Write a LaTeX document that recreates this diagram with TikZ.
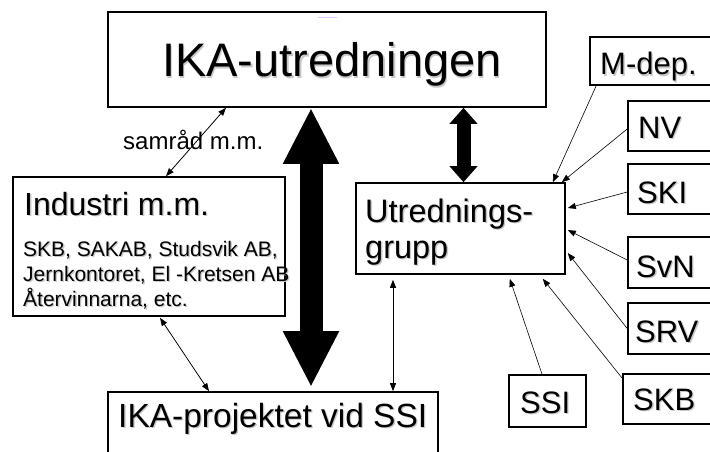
\documentclass[tikz,border=0pt]{standalone}
\usepackage{fontspec}
\setmainfont{Liberation Sans}
\usetikzlibrary{arrows.meta}
\definecolor{faintpurple}{RGB}{220,205,250}
\definecolor{shadowgray}{RGB}{200,200,200}
\newcommand\shd[1]{\rlap{\kern1.3pt\raisebox{-1.3pt}{\textcolor{shadowgray}{#1}}}#1}
\begin{document}
\begin{tikzpicture}[x=1pt,y=-1pt,
  box/.style={draw=black,line width=1.6pt,rectangle,inner sep=0pt,fill=none},
  txt/.style={anchor=base west,inner sep=0pt,text=black},
  thin/.style={line width=0.8pt,{Triangle[length=8pt,width=6pt]}-{Triangle[length=8pt,width=6pt]}},
  inarrow/.style={line width=0.6pt,-{Triangle[length=8pt,width=6pt]}},
  bigarrow/.style={line width=23pt,{Triangle[length=56pt,width=52pt]}-{Triangle[length=56pt,width=52pt]}},
  midarrow/.style={line width=14pt,{Triangle[length=16pt,width=27pt]}-{Triangle[length=16pt,width=27pt]}}
]
\useasboundingbox (0,0) rectangle (710,452);
\clip (0,0) rectangle (710,452);
\fill[white] (0,0) rectangle (710,452);

% boxes
\node[box,minimum width=438pt,minimum height=95pt] (ika) at (327,59.5) {};
\node[box,minimum width=272pt,minimum height=139pt] (ind) at (149,246.5) {};
\node[box,minimum width=209pt,minimum height=91pt] (grp) at (460.5,228.5) {};
\node[box,minimum width=330pt,minimum height=78pt] (proj) at (273,431) {};
\node[box,minimum width=140pt,minimum height=48pt] (mdep) at (660,61) {};
\node[box,minimum width=102pt,minimum height=50pt] (nv) at (679,126) {};
\node[box,minimum width=102pt,minimum height=50pt] (ski) at (679,189) {};
\node[box,minimum width=102pt,minimum height=51pt] (svn) at (679,262.5) {};
\node[box,minimum width=102pt,minimum height=51pt] (srv) at (679,328.5) {};
\node[box,minimum width=107pt,minimum height=50pt] (skb) at (676.5,399) {};
\node[box,minimum width=77pt,minimum height=52pt] (ssi) at (547.5,401) {};

% texts
\node[txt,font=\fontsize{47}{56}\selectfont] (tika) at (162,77) {\shd{IKA-utredningen}};
\node[txt,font=\fontsize{32}{38}\selectfont] (tind) at (24,215) {\shd{Industri m.m.}};
\node[txt,font=\fontsize{21}{25}\selectfont] (tind1) at (23,256) {\shd{SKB, SAKAB, Studsvik AB,}};
\node[txt,font=\fontsize{21}{25}\selectfont] (tind2) at (23,281) {\shd{Jernkontoret, El -Kretsen AB}};
\node[txt,font=\fontsize{21}{25}\selectfont] (tind3) at (23,306) {\shd{Återvinnarna, etc.}};
\node[txt,font=\fontsize{32.5}{40}\selectfont] (tgrp1) at (365,222) {\shd{Utrednings-}};
\node[txt,font=\fontsize{32.5}{40}\selectfont] (tgrp2) at (365,258) {\shd{grupp}};
\node[txt,font=\fontsize{33.5}{40}\selectfont] (tproj) at (118,427) {\shd{IKA-projektet vid SSI}};
\node[txt,font=\fontsize{31}{37}\selectfont] (tmdep) at (600,75) {\shd{M-dep.}};
\node[txt,font=\fontsize{31}{37}\selectfont] (tnv) at (638,138) {\shd{NV}};
\node[txt,font=\fontsize{31}{37}\selectfont] (tski) at (637,203) {\shd{SKI}};
\node[txt,font=\fontsize{31}{37}\selectfont] (tsvn) at (636,277) {\shd{SvN}};
\node[txt,font=\fontsize{31}{37}\selectfont] (tsrv) at (635,342) {\shd{SRV}};
\node[txt,font=\fontsize{31}{37}\selectfont] (tskb) at (633,410) {\shd{SKB}};
\node[txt,font=\fontsize{31}{37}\selectfont] (tssi) at (520,413) {\shd{SSI}};

% thick arrows
\draw[bigarrow] ([xshift=-16pt]ika.south) -- ([xshift=38pt,yshift=4pt]proj.north);
\draw[midarrow] ([xshift=136.5pt]ika.south) -- ([xshift=3pt]grp.north);

% thin double arrows
\draw[thin] ([xshift=-101pt]ika.south) -- ([xshift=17pt]ind.north);
\node[txt,font=\fontsize{24}{29}\selectfont] (tsam) at (123,149) {samråd m.m.};
\draw[thin] ([xshift=11pt,yshift=-1pt]ind.south) -- ([xshift=-64pt]proj.north);
\draw[thin] ([xshift=-67.5pt,yshift=-5pt]grp.south) -- ([xshift=120pt]proj.north);

% incoming arrows
\draw[inarrow] ([xshift=7pt]mdep.south west) -- ([xshift=-13pt]grp.north east);
\draw[inarrow] ([yshift=-3pt]nv.west) -- ([xshift=-4pt]grp.north east);
\draw[inarrow] ([yshift=-3pt]ski.west) -- ([xshift=2pt,yshift=20.5pt]grp.east);
\draw[inarrow] ([yshift=2.5pt]svn.west) -- ([xshift=2pt,yshift=-1.5pt]grp.east);
\draw[inarrow] (srv.west) -- ([xshift=2pt,yshift=-24.5pt]grp.east);
\draw[inarrow] ([yshift=-5pt]skb.north west) -- ([xshift=-23pt,yshift=-4pt]grp.south east);
\draw[inarrow] ([xshift=-5.5pt]ssi.north) -- ([xshift=-56pt,yshift=-4pt]grp.south east);

% faint mark
\draw[faintpurple,line width=0.8pt] ([xshift=-9pt,yshift=-6pt]ika.north) -- ([xshift=10pt,yshift=-6pt]ika.north);
\end{tikzpicture}
\end{document}
